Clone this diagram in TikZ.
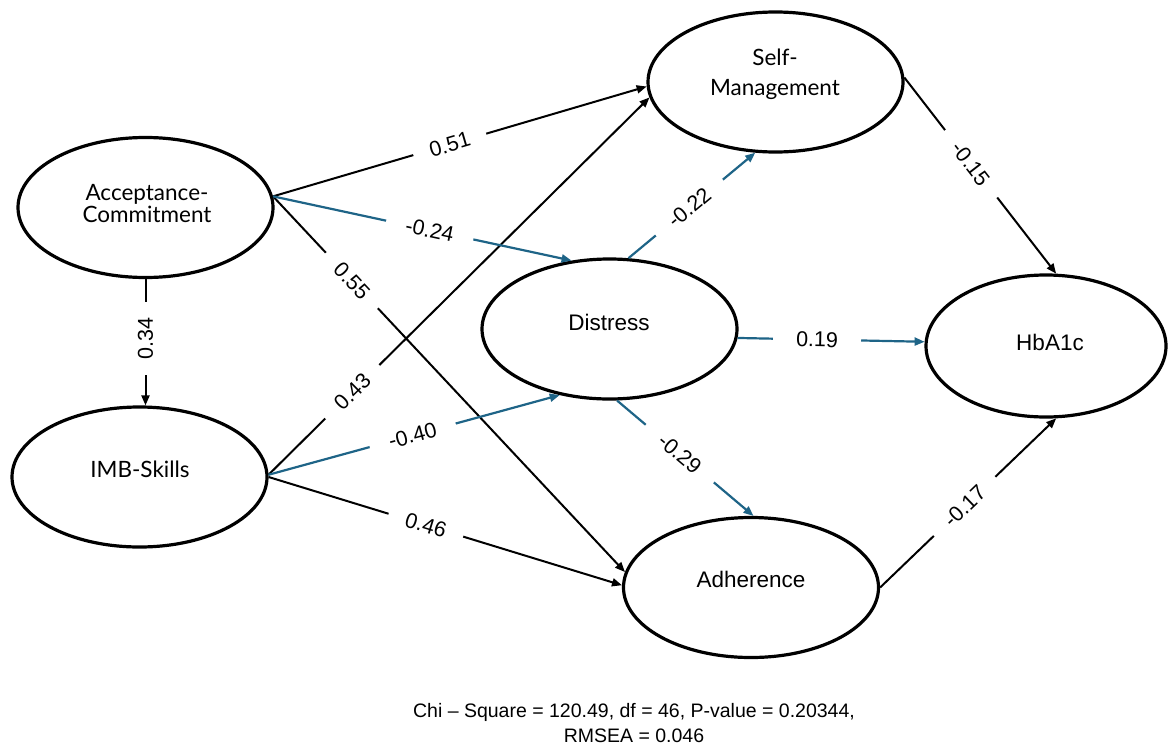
\documentclass[tikz,border=0pt]{standalone}
\usepackage{fontspec}
\setmainfont{Liberation Sans}
\newfontfamily\aptos{Lato}
\usetikzlibrary{shapes.geometric,arrows.meta}
\definecolor{pathblue}{RGB}{30,100,135}
\begin{document}
\begin{tikzpicture}[x=1pt,y=-1pt,
  latent/.style={draw=black, line width=3.2pt, ellipse, minimum width=255pt, minimum height=140pt, inner sep=0pt},
  nametxt/.style={font=\fontsize{22.5}{22}\selectfont, align=center, inner sep=0pt},
  aptxt/.style={font=\aptos\fontsize{22.5}{22}\selectfont, align=center, inner sep=0pt},
  blk/.style={draw=black, line width=2pt, -{Triangle[length=10pt,width=8pt]}},
  blu/.style={draw=pathblue, line width=2.2pt, -{Triangle[length=10pt,width=8pt]}},
  coef/.style={font=\fontsize{21.5}{24}\selectfont, fill=white, sloped, inner ysep=1pt, text=black},
]
\useasboundingbox (0,0) rectangle (1169,747);

% latent variables
\node[latent] (AC)  at (145.5,207.5) {};
\node[latent] (IMB) at (139.5,477) {};
\node[latent] (SM)  at (775.5,82) {};
\node[latent] (DIS) at (609.5,329) {};
\node[latent, minimum width=240pt, minimum height=142pt] (HB) at (1046,346) {};
\node[latent] (ADH) at (751,587.5) {};

% texts
\node[aptxt] (tAC) at (147,204) {Acceptance-\\Commitment};
\node[aptxt] (tIMB) at (140,469) {IMB-Skills};
\node[aptxt, font=\aptos\fontsize{22.5}{30}\selectfont] (tSM) at (775,74) {Self-\\Management};
\node[nametxt] (tDIS) at (609,322) {Distress};
\node[nametxt] (tHB) at (1050,342) {HbA1c};
\node[nametxt] (tADH) at (751,579) {Adherence};

% paths
\draw[blk] (AC.south) -- (AC.south |- IMB.north)
  node[coef, pos=0.47, sloped=false, rotate=90, inner xsep=16pt] {0.34};
\draw[blk] (AC.5) -- (SM.182) node[coef, pos=0.473, inner xsep=17pt] {0.51};
\draw[blk] (AC.5) -- (ADH.173) node[coef, pos=0.224, inner xsep=17pt] {0.55};
\draw[blk] (IMB.1) -- (SM.187) node[coef, pos=0.22, inner xsep=17pt] {0.43};
\draw[blk] (IMB.0) -- (ADH.179) node[coef, pos=0.445, inner xsep=18pt] {0.46};
\draw[blu] (AC.5) -- (DIS.119) node[coef, pos=0.525, inner xsep=20pt] {-0.24};
\draw[blu] (IMB.1) -- (DIS.233) node[coef, pos=0.495, inner xsep=20pt] {-0.40};
\draw[blu] (DIS.75) -- (SM.254) node[coef, pos=0.48, inner xsep=19pt] {-0.22};
\draw[blu] (DIS.-4) -- (HB.178.6) node[coef, pos=0.425, inner xsep=23pt] {0.19};
\draw[blu] (DIS.-84) -- (ADH.88) node[coef, pos=0.46, inner xsep=20pt] {-0.29};
\draw[blk] (SM.2) -- (HB.82) node[coef, pos=0.44, inner xsep=18pt] {-0.15};
\draw[blk] (ADH.0) -- (HB.-82) node[coef, pos=0.48, inner xsep=18pt] {-0.17};

% fit statistics
\node[font=\fontsize{19.5}{25}\selectfont, align=center, inner sep=0pt] (fit) at (634,723)
  {Chi -- Square = 120.49, df = 46, P-value = 0.20344,\\RMSEA = 0.046};
\end{tikzpicture}
\end{document}
